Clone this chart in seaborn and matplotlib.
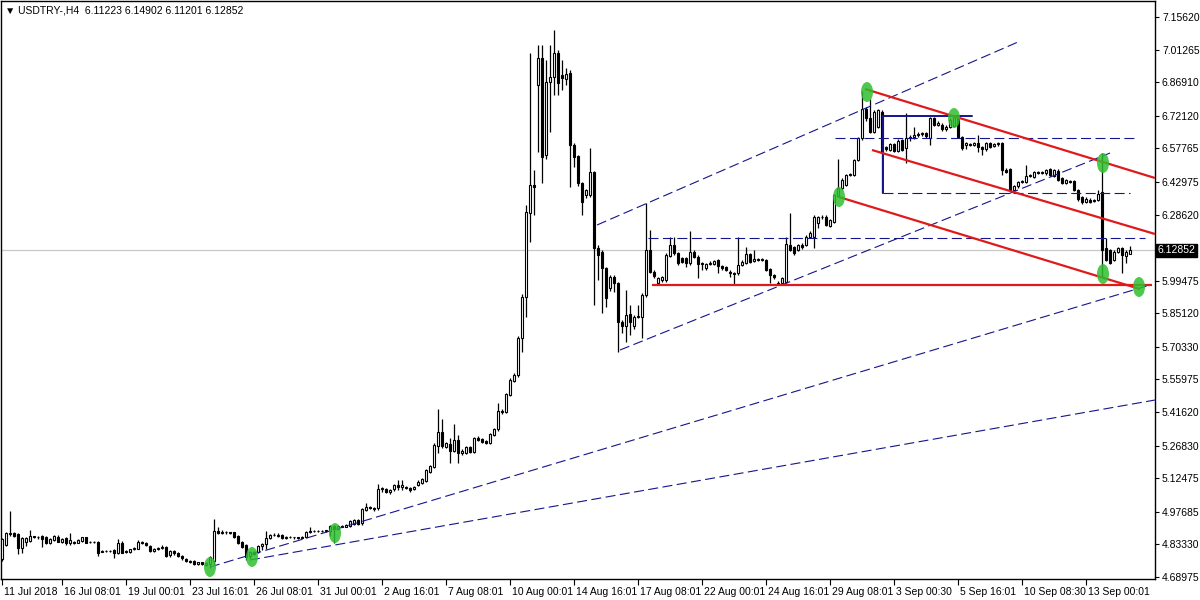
import numpy as np
import pandas as pd
import matplotlib
matplotlib.use("Agg")
import matplotlib.pyplot as plt
import matplotlib.transforms as mtransforms
from matplotlib.patches import Ellipse
import seaborn as sns

# USDTRY H4 candles (bar 0 = 11 Jul 2018 20:00)
opens = [
    4.770, 4.831, 4.880, 4.884, 4.879, 4.816, 4.845, 4.850, 4.868, 4.866,
    4.870, 4.866, 4.841, 4.853, 4.867, 4.846, 4.863, 4.841, 4.843, 4.841,
    4.850, 4.864, 4.846, 4.844, 4.846, 4.802, 4.804, 4.803, 4.809, 4.794,
    4.841, 4.798, 4.800, 4.812, 4.815, 4.842, 4.838, 4.826, 4.806, 4.814,
    4.818, 4.823, 4.787, 4.804, 4.794, 4.782, 4.769, 4.762, 4.760, 4.749,
    4.754, 4.743, 4.748, 4.760, 4.892, 4.885, 4.889, 4.886, 4.886, 4.870,
    4.845, 4.831, 4.782, 4.799, 4.801, 4.825, 4.834, 4.860, 4.874, 4.876,
    4.875, 4.860, 4.865, 4.865, 4.864, 4.863, 4.867, 4.889, 4.893, 4.891,
    4.893, 4.892, 4.892, 4.914, 4.900, 4.914, 4.912, 4.914, 4.923, 4.941,
    4.926, 4.985, 4.999, 4.992, 4.992, 5.076, 5.076, 5.062, 5.076, 5.095,
    5.088, 5.088, 5.082, 5.078, 5.095, 5.103, 5.114, 5.154, 5.176, 5.268,
    5.330, 5.264, 5.276, 5.246, 5.293, 5.234, 5.236, 5.264, 5.240, 5.300,
    5.296, 5.289, 5.281, 5.315, 5.340, 5.421, 5.418, 5.491, 5.555, 5.579,
    5.741, 5.924, 6.292, 6.416, 6.857, 6.974, 6.548, 6.871, 6.893, 6.996,
    6.901, 6.882, 6.908, 6.593, 6.544, 6.424, 6.372, 6.372, 6.475, 6.137,
    6.123, 6.049, 5.961, 6.013, 5.983, 5.814, 5.795, 5.848, 5.795, 5.836,
    5.836, 5.932, 6.130, 6.035, 5.983, 5.998, 5.998, 6.104, 6.152, 6.115,
    6.093, 6.093, 6.071, 6.123, 6.101, 6.068, 6.049, 6.068, 6.068, 6.086,
    6.060, 6.054, 6.035, 6.030, 6.027, 6.064, 6.074, 6.111, 6.083, 6.090,
    6.086, 6.086, 6.045, 6.020, 5.986, 5.983, 5.990, 6.152, 6.142, 6.130,
    6.152, 6.152, 6.189, 6.189, 6.250, 6.274, 6.277, 6.236, 6.255, 6.370,
    6.402, 6.416, 6.460, 6.460, 6.526, 6.622, 6.749, 6.710, 6.651, 6.673,
    6.740, 6.582, 6.570, 6.597, 6.565, 6.614, 6.578, 6.622, 6.629, 6.636,
    6.641, 6.644, 6.622, 6.710, 6.681, 6.681, 6.661, 6.673, 6.676, 6.710,
    6.629, 6.593, 6.597, 6.593, 6.600, 6.585, 6.573, 6.600, 6.588, 6.597,
    6.600, 6.482, 6.485, 6.394, 6.410, 6.431, 6.431, 6.456, 6.453, 6.475,
    6.470, 6.468, 6.485, 6.456, 6.480, 6.446, 6.427, 6.435, 6.435, 6.394,
    6.362, 6.343, 6.352, 6.345, 6.350, 6.387, 6.137, 6.130, 6.086, 6.123,
    6.137, 6.104, 6.11223,
]
highs = [
    4.862, 4.888, 4.982, 4.888, 4.885, 4.865, 4.868, 4.897, 4.872, 4.870,
    4.874, 4.870, 4.860, 4.876, 4.874, 4.860, 4.868, 4.882, 4.848, 4.857,
    4.868, 4.868, 4.850, 4.850, 4.850, 4.810, 4.808, 4.809, 4.812, 4.856,
    4.850, 4.810, 4.815, 4.822, 4.853, 4.850, 4.842, 4.832, 4.816, 4.822,
    4.830, 4.828, 4.810, 4.808, 4.798, 4.786, 4.772, 4.766, 4.764, 4.758,
    4.757, 4.754, 4.781, 4.945, 4.911, 4.895, 4.894, 4.890, 4.890, 4.873,
    4.850, 4.834, 4.805, 4.805, 4.830, 4.840, 4.892, 4.880, 4.882, 4.882,
    4.879, 4.870, 4.871, 4.868, 4.868, 4.871, 4.893, 4.911, 4.897, 4.898,
    4.897, 4.899, 4.920, 4.920, 4.918, 4.920, 4.923, 4.940, 4.946, 4.946,
    4.992, 5.017, 5.004, 4.996, 5.098, 5.085, 5.080, 5.076, 5.100, 5.117,
    5.117, 5.092, 5.086, 5.090, 5.115, 5.125, 5.166, 5.185, 5.278, 5.430,
    5.384, 5.285, 5.300, 5.364, 5.315, 5.252, 5.266, 5.268, 5.306, 5.310,
    5.302, 5.293, 5.322, 5.346, 5.455, 5.428, 5.502, 5.565, 5.590, 5.750,
    5.935, 6.328, 6.996, 6.482, 7.033, 7.033, 6.967, 7.033, 7.099, 7.011,
    6.967, 6.930, 6.923, 6.600, 6.550, 6.430, 6.400, 6.578, 6.480, 6.150,
    6.130, 6.055, 6.020, 6.020, 5.990, 5.820, 5.954, 5.888, 5.842, 5.888,
    5.940, 6.338, 6.218, 6.040, 6.010, 6.016, 6.115, 6.189, 6.189, 6.120,
    6.098, 6.098, 6.215, 6.128, 6.106, 6.078, 6.072, 6.080, 6.088, 6.092,
    6.064, 6.058, 6.040, 6.035, 6.186, 6.084, 6.145, 6.116, 6.130, 6.095,
    6.096, 6.092, 6.050, 6.024, 5.992, 6.010, 6.189, 6.292, 6.148, 6.158,
    6.160, 6.195, 6.212, 6.284, 6.280, 6.284, 6.282, 6.268, 6.378, 6.529,
    6.445, 6.466, 6.470, 6.532, 6.628, 6.832, 6.760, 6.794, 6.745, 6.752,
    6.748, 6.588, 6.602, 6.603, 6.618, 6.620, 6.735, 6.636, 6.673, 6.648,
    6.650, 6.650, 6.716, 6.716, 6.696, 6.688, 6.680, 6.712, 6.724, 6.716,
    6.634, 6.605, 6.602, 6.606, 6.637, 6.590, 6.606, 6.606, 6.602, 6.606,
    6.606, 6.490, 6.490, 6.418, 6.436, 6.440, 6.504, 6.466, 6.480, 6.480,
    6.480, 6.488, 6.490, 6.488, 6.486, 6.450, 6.444, 6.440, 6.440, 6.398,
    6.366, 6.362, 6.358, 6.356, 6.394, 6.556, 6.184, 6.135, 6.128, 6.142,
    6.142, 6.128, 6.14902,
]
lows = [
    4.760, 4.826, 4.872, 4.868, 4.791, 4.794, 4.826, 4.846, 4.860, 4.858,
    4.823, 4.836, 4.834, 4.848, 4.842, 4.840, 4.830, 4.831, 4.836, 4.838,
    4.846, 4.838, 4.838, 4.840, 4.782, 4.798, 4.799, 4.800, 4.772, 4.790,
    4.794, 4.794, 4.796, 4.808, 4.812, 4.834, 4.826, 4.802, 4.802, 4.810,
    4.814, 4.776, 4.780, 4.788, 4.776, 4.766, 4.758, 4.752, 4.742, 4.744,
    4.744, 4.738, 4.730, 4.748, 4.878, 4.880, 4.880, 4.878, 4.862, 4.836,
    4.816, 4.765, 4.770, 4.785, 4.796, 4.808, 4.815, 4.856, 4.870, 4.866,
    4.855, 4.856, 4.860, 4.858, 4.858, 4.860, 4.862, 4.884, 4.886, 4.887,
    4.886, 4.887, 4.870, 4.838, 4.896, 4.908, 4.908, 4.910, 4.920, 4.918,
    4.920, 4.980, 4.988, 4.982, 4.985, 5.066, 5.060, 5.056, 5.070, 5.073,
    5.073, 5.076, 5.066, 5.074, 5.090, 5.098, 5.110, 5.150, 5.170, 5.234,
    5.260, 5.258, 5.190, 5.240, 5.193, 5.228, 5.232, 5.238, 5.236, 5.288,
    5.280, 5.274, 5.276, 5.310, 5.334, 5.408, 5.412, 5.486, 5.548, 5.570,
    5.682, 5.836, 6.167, 6.284, 6.563, 6.424, 6.530, 6.651, 6.813, 6.813,
    6.835, 6.857, 6.409, 6.497, 6.410, 6.284, 6.360, 6.365, 5.888, 6.000,
    5.851, 5.880, 5.950, 5.947, 5.682, 5.763, 5.726, 5.756, 5.780, 5.830,
    5.741, 5.925, 6.028, 6.008, 5.976, 5.990, 5.990, 6.098, 6.108, 6.064,
    6.072, 6.054, 6.066, 6.096, 6.005, 6.042, 6.044, 6.062, 6.062, 6.027,
    6.044, 6.036, 6.013, 5.976, 6.020, 6.058, 6.070, 6.074, 6.078, 6.080,
    6.080, 6.038, 5.983, 6.004, 5.976, 5.976, 5.985, 6.124, 6.108, 6.124,
    6.135, 6.146, 6.182, 6.137, 6.228, 6.268, 6.234, 6.230, 6.250, 6.365,
    6.396, 6.410, 6.455, 6.455, 6.520, 6.615, 6.700, 6.645, 6.645, 6.668,
    6.380, 6.566, 6.564, 6.560, 6.560, 6.564, 6.512, 6.612, 6.620, 6.628,
    6.634, 6.625, 6.593, 6.676, 6.676, 6.655, 6.656, 6.668, 6.670, 6.622,
    6.570, 6.573, 6.588, 6.588, 6.563, 6.548, 6.568, 6.580, 6.582, 6.590,
    6.460, 6.470, 6.388, 6.386, 6.404, 6.425, 6.426, 6.450, 6.448, 6.464,
    6.464, 6.462, 6.455, 6.450, 6.432, 6.420, 6.420, 6.426, 6.388, 6.346,
    6.331, 6.338, 6.338, 6.340, 6.345, 6.012, 6.080, 6.068, 6.080, 6.118,
    6.027, 6.071, 6.11201,
]
closes = [
    4.855, 4.882, 4.885, 4.872, 4.816, 4.860, 4.862, 4.870, 4.867, 4.864,
    4.856, 4.841, 4.856, 4.870, 4.846, 4.856, 4.838, 4.853, 4.841, 4.853,
    4.864, 4.841, 4.843, 4.846, 4.797, 4.806, 4.803, 4.805, 4.794, 4.841,
    4.797, 4.806, 4.812, 4.816, 4.843, 4.841, 4.831, 4.806, 4.812, 4.818,
    4.823, 4.782, 4.804, 4.794, 4.782, 4.772, 4.762, 4.757, 4.747, 4.754,
    4.748, 4.750, 4.776, 4.892, 4.884, 4.889, 4.886, 4.884, 4.867, 4.841,
    4.823, 4.779, 4.799, 4.791, 4.825, 4.834, 4.863, 4.875, 4.876, 4.871,
    4.860, 4.865, 4.867, 4.864, 4.863, 4.867, 4.889, 4.894, 4.891, 4.893,
    4.892, 4.895, 4.914, 4.900, 4.914, 4.912, 4.918, 4.936, 4.941, 4.923,
    4.988, 4.999, 4.992, 4.988, 5.076, 5.080, 5.066, 5.073, 5.095, 5.088,
    5.095, 5.080, 5.075, 5.084, 5.110, 5.120, 5.161, 5.179, 5.271, 5.330,
    5.267, 5.279, 5.246, 5.293, 5.234, 5.246, 5.261, 5.242, 5.300, 5.293,
    5.286, 5.279, 5.318, 5.340, 5.421, 5.415, 5.496, 5.557, 5.579, 5.741,
    5.924, 6.299, 6.416, 6.409, 6.974, 6.541, 6.871, 6.893, 6.996, 6.867,
    6.886, 6.905, 6.593, 6.541, 6.424, 6.343, 6.394, 6.475, 6.137, 6.108,
    6.049, 5.917, 6.013, 5.983, 5.814, 5.795, 5.844, 5.814, 5.836, 5.839,
    5.932, 6.130, 6.035, 6.016, 6.005, 6.010, 6.108, 6.152, 6.115, 6.071,
    6.079, 6.071, 6.123, 6.101, 6.068, 6.074, 6.068, 6.074, 6.083, 6.060,
    6.049, 6.042, 6.027, 6.024, 6.064, 6.079, 6.111, 6.079, 6.090, 6.086,
    6.090, 6.042, 6.020, 6.010, 5.980, 6.005, 6.156, 6.130, 6.115, 6.152,
    6.145, 6.189, 6.206, 6.277, 6.274, 6.277, 6.240, 6.262, 6.372, 6.402,
    6.438, 6.460, 6.465, 6.526, 6.622, 6.749, 6.710, 6.651, 6.739, 6.746,
    6.559, 6.574, 6.597, 6.565, 6.612, 6.570, 6.622, 6.629, 6.636, 6.641,
    6.644, 6.630, 6.710, 6.681, 6.690, 6.661, 6.673, 6.703, 6.717, 6.629,
    6.578, 6.600, 6.593, 6.600, 6.585, 6.573, 6.600, 6.585, 6.597, 6.600,
    6.482, 6.475, 6.394, 6.412, 6.431, 6.435, 6.456, 6.460, 6.475, 6.470,
    6.475, 6.482, 6.460, 6.482, 6.438, 6.427, 6.438, 6.431, 6.394, 6.353,
    6.343, 6.355, 6.343, 6.350, 6.377, 6.130, 6.086, 6.074, 6.123, 6.137,
    6.108, 6.123, 6.12852,
]

last_price = 6.12852
title_text = "\u25bc USDTRY-,H4  6.11223 6.14902 6.11201 6.12852"

# price scale labels (the one under the current-price box is hidden)
y_tick_values = [7.15620, 7.01265, 6.86910, 6.72120, 6.57765, 6.42975, 6.28620,
                 5.99475, 5.85120, 5.70330, 5.55975, 5.41620, 5.26830, 5.12475,
                 4.97685, 4.83330, 4.68975]
x_tick_bars = [0, 15, 31, 47, 63, 79, 95, 111, 127, 143, 159, 175, 191, 207,
               223, 239, 255, 271]
x_tick_labels = ["11 Jul 2018", "16 Jul 08:01", "19 Jul 00:01", "23 Jul 16:01",
                 "26 Jul 08:01", "31 Jul 00:01", "2 Aug 16:01", "7 Aug 08:01",
                 "10 Aug 00:01", "14 Aug 16:01", "17 Aug 08:01", "22 Aug 00:01",
                 "24 Aug 16:01", "29 Aug 08:01", "3 Sep 00:30", "5 Sep 16:01",
                 "10 Sep 08:30", "13 Sep 00:01"]

# drawn objects: (bar, price) end points
blue_trend = [
    [(148.75, 6.2401), (254.0, 7.0461)],
    [(154.5, 5.6895), (277.0, 6.5572)],
    [(52.0, 4.7338), (287.0, 5.9758)],
    [(62.0, 4.7646), (288.25, 5.4693)],
    [(161.5, 6.1828), (285.75, 6.1828)],
    [(208.25, 6.6233), (283.25, 6.6233)],
    [(220.25, 6.3810), (282.0, 6.3810)],
]
blue_solid = [
    [(220.25, 6.7202), (242.5, 6.7202)],
    [(220.25, 6.3810), (220.25, 6.7202)],
]
red_trend = [
    [(162.5, 5.9758), (287.5, 5.9758)],
    [(215.75, 6.8391), (288.25, 6.4471)],
    [(217.5, 6.5704), (288.25, 6.2005)],
    [(209.25, 6.3634), (284.5, 5.9580)],
]
marker_bars = [52.0, 62.5, 83.25, 209.25, 216.25, 238.0, 275.25, 275.25, 284.25]
marker_prices = [4.7338, 4.7779, 4.8835, 6.3634, 6.8259, 6.7114, 6.5132, 6.0243, 5.9670]

df = pd.DataFrame({"open": opens, "high": highs, "low": lows, "close": closes})
df["bar"] = np.arange(len(df))
df["up"] = df["close"] >= df["open"]

sns.set_theme(style="white")
plt.rcParams['font.family'] = ['Liberation Sans', 'DejaVu Sans']

fig = plt.figure(figsize=(12, 6), dpi=100)
ax = fig.add_axes([1 / 1200, 21 / 600, 1154 / 1200, 578 / 600])
ax.set_xlim(-0.25, 288.25)
ax.set_ylim(4.6810, 7.2267)

navy = "#14148c"
red = "#e0191b"

# current price line sits behind everything
ax.axhline(last_price, color="#c8c8c8", lw=0.9, zorder=1)

# wicks
wick_lo = df[["low", "open", "close"]].min(axis=1)
wick_hi = df[["high", "open", "close"]].max(axis=1)
ax.vlines(df["bar"], wick_lo, wick_hi, color="black", lw=0.9, zorder=3)

# bodies: white for up bars, black for down bars
body_h = (df["close"] - df["open"]).abs().clip(lower=0.0015)
body_b = df[["open", "close"]].min(axis=1)
ax.bar(df["bar"], body_h, bottom=body_b, width=0.55,
       color=np.where(df["up"], "white", "black"), edgecolor="black",
       linewidth=0.8, zorder=4)

for seg in blue_trend:
    (x0, y0), (x1, y1) = seg
    ax.plot([x0, x1], [y0, y1], color=navy, lw=0.8,
            linestyle=(0, (9, 4)), zorder=5)
for seg in blue_solid:
    (x0, y0), (x1, y1) = seg
    ax.plot([x0, x1], [y0, y1], color=navy, lw=1.4, zorder=5)
for seg in red_trend:
    (x0, y0), (x1, y1) = seg
    ax.plot([x0, x1], [y0, y1], color=red, lw=1.6, zorder=6,
            solid_capstyle="butt")

for xb, yp in zip(marker_bars, marker_prices):
    ax.add_patch(Ellipse((xb, yp), width=3.0, height=0.088,
                         facecolor="#2fbf2f", edgecolor="none",
                         alpha=0.85, zorder=7))

# axes frame and scales
for sp in ax.spines.values():
    sp.set_visible(True)
    sp.set_color("black")
    sp.set_linewidth(1.0)

ax.yaxis.tick_right()
ax.set_yticks(y_tick_values)
ax.set_yticklabels([f"{v:.5f}" for v in y_tick_values])
ax.tick_params(axis="y", which="both", right=True, left=False, direction="out",
               length=3, width=0.8, pad=2, labelsize=7.5, colors="black")

ax.set_xticks(x_tick_bars)
ax.set_xticklabels(x_tick_labels, ha="left")
ax.tick_params(axis="x", which="both", bottom=True, direction="out",
               length=4, width=0.8, pad=2, labelsize=7.5, colors="black")
offset = mtransforms.ScaledTranslation(2 / 100, 0, fig.dpi_scale_trans)
for lab in ax.get_xticklabels():
    lab.set_transform(lab.get_transform() + offset)

ax.grid(False)
ax.set_xlabel("")
ax.set_ylabel("")

# current price box on the price scale
trans = mtransforms.blended_transform_factory(ax.transAxes, ax.transData)
ax.text(1.0025, last_price, f"{last_price:.5f}", transform=trans, fontsize=7.5,
        color="white", va="center", ha="left", clip_on=False, zorder=10,
        bbox=dict(boxstyle="square,pad=0.15", facecolor="black", edgecolor="black"))

ax.text(0.0035, 0.984, title_text, transform=ax.transAxes, fontsize=7.5,
        color="black", va="center", ha="left", zorder=10)

fig.savefig("out.png", dpi=100)
